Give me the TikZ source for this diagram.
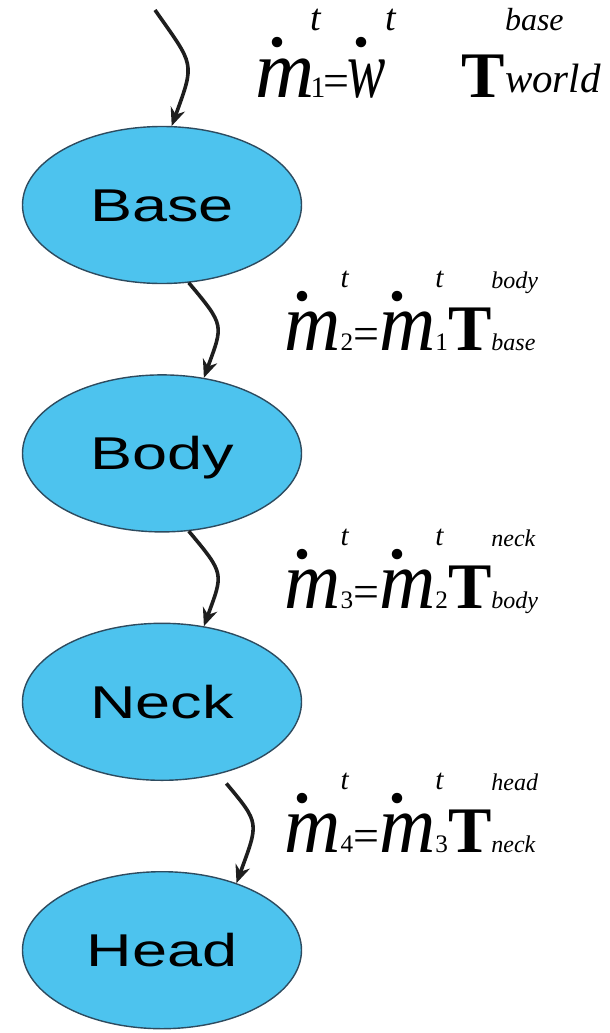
\documentclass[tikz,border=0pt]{standalone}
\usepackage{fontspec}
\setmainfont{Liberation Serif}
\newfontfamily\helv{Liberation Sans}
\usepackage{graphicx}
\usetikzlibrary{positioning,arrows.meta,shapes.geometric}

\definecolor{capsula}{RGB}{77,195,238}
\definecolor{borda}{RGB}{45,75,95}
\definecolor{tinta}{RGB}{30,30,30}

% letra com ponto em cima: #1 letra, #2 escala horizontal, #3 posicao do ponto
\newcommand{\pontuado}[3]{%
  \rlap{\kern#3\makebox[0pt]{\raisebox{25pt}{\fontsize{44}{44}\selectfont .}}}%
  {\fontsize{41}{41}\selectfont\itshape\scalebox{#2}[1]{#1}}}
% expoente t e indice numerico
\newcommand{\expo}[5]{%
  \rlap{\raisebox{#1}{\fontsize{#2}{#2}\selectfont\itshape #3}}%
  {\fontsize{#4}{#4}\selectfont #5}}
% matriz T com sobrescrito e subscrito
\newcommand{\transf}[6]{%
  {\fontsize{32.5}{32.5}\selectfont\bfseries T}%
  \rlap{\raisebox{#1}{\fontsize{#2}{#2}\selectfont\itshape #3}}%
  \raisebox{#6}{\fontsize{#4}{#4}\selectfont\itshape #5}}
\newcommand{\igual}{\raisebox{0.5pt}{\fontsize{23}{23}\selectfont =}}
\newcommand{\rotulo}[1]{\scalebox{1.37}[1]{#1}}

\begin{document}
\begin{tikzpicture}[
  x=0.5pt, y=-0.5pt,
  node distance=45pt,
  parte/.style={ellipse, draw=borda, line width=0.7pt, fill=capsula,
                minimum width=139.5pt, minimum height=78.5pt, inner sep=0pt,
                font=\helv\fontsize{23}{23}\selectfont,
                text height=16.5pt, text depth=0pt},
  seta/.style={-{Stealth[length=9pt, width=7.5pt]}, line width=1.8pt,
               draw=tinta, looseness=1.5},
  eq/.style={anchor=base west, inner sep=0pt, text=black}
]
\useasboundingbox (0,0) rectangle (610,1033);

% ---------------- Cadeia de partes ----------------
\node[parte] (base) at (162,205) {\rotulo{Base}};
\node[parte, below=of base] (body) {\rotulo{Body}};
\node[parte, below=of body] (neck) {\rotulo{Neck}};
\node[parte, below=of neck] (head) {\rotulo{Head}};

% ---------------- Equacoes ----------------
\node[eq] (q1) at (255,97)
  {\pontuado{m}{1.0}{11pt}\kern-2pt\expo{33pt}{19}{t}{14.8}{1}\kern-1pt\igual\kern-1pt\pontuado{w}{0.7}{7pt}\expo{33pt}{19}{t}{14.8}{}\hspace{38pt}\transf{33pt}{16}{base}{20.5}{world}{2pt}};
\node[eq] (q2) at (284,350)
  {\pontuado{m}{0.95}{9pt}\expo{31.5pt}{14.6}{t}{12.6}{2}\igual\pontuado{m}{0.95}{9pt}\expo{31.5pt}{14.6}{t}{12.6}{1}\transf{31pt}{12}{body}{12}{base}{0pt}};
\node[eq] (q3) at (284,608)
  {\pontuado{m}{0.95}{9pt}\expo{31.5pt}{14.6}{t}{12.6}{3}\igual\pontuado{m}{0.95}{9pt}\expo{31.5pt}{14.6}{t}{12.6}{2}\transf{31pt}{12}{neck}{12}{body}{0pt}};
\node[eq] (q4) at (284,852)
  {\pontuado{m}{0.95}{9pt}\expo{31.5pt}{14.6}{t}{12.6}{4}\igual\pontuado{m}{0.95}{9pt}\expo{31.5pt}{14.6}{t}{12.6}{3}\transf{31pt}{12}{head}{12}{neck}{0pt}};

% ---------------- Setas ----------------
\coordinate (mundo) at (155,10);
\draw[seta] (mundo) to[out=-55, in=70] (base.83);
\draw[seta] (base.-71) to[out=-50, in=70] (body.61);
\draw[seta] (body.-71) to[out=-50, in=70] (neck.61);
\draw[seta, shorten <=6pt] (neck.-52) to[out=-50, in=70] (head.42);

\end{tikzpicture}
\end{document}
